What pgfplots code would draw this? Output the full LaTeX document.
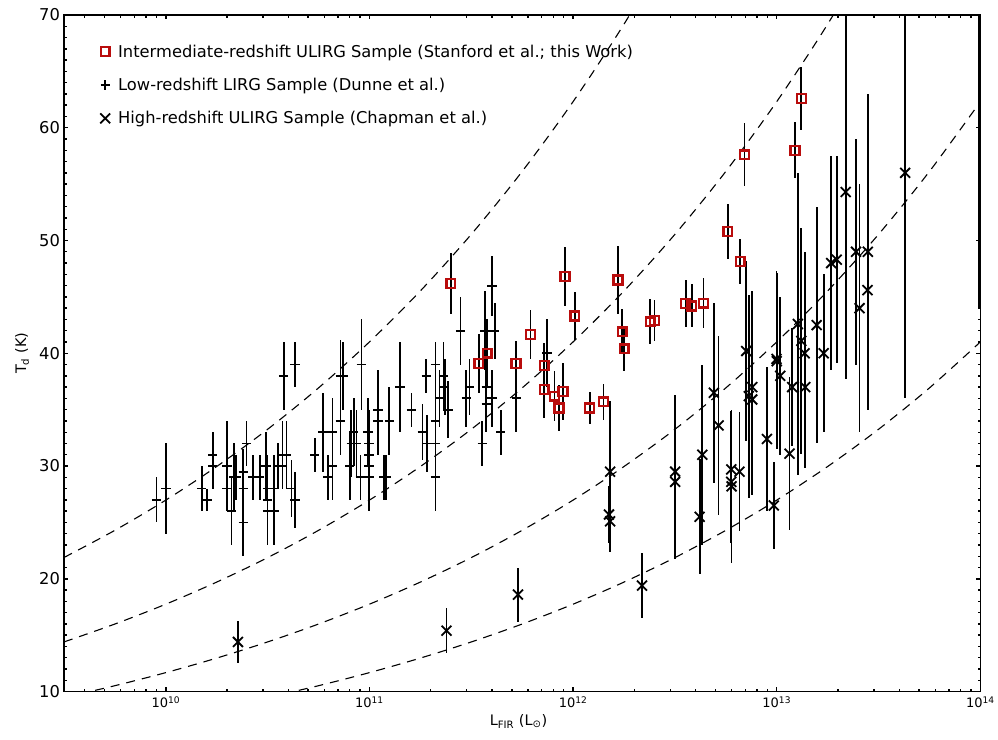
\documentclass[border=0pt]{standalone}
\usepackage{fontspec}
\setmainfont{DejaVu Sans}
\usepackage{pgfplots}
\usepackage{pgfplotstable}
\pgfplotsset{compat=1.18}
\definecolor{sqred}{RGB}{185,12,12}

\pgfplotstableread{
L T e
2.51e11 46.2 2.7
3.44e11 39.1 2.6
3.79e11 40.0 3.0
5.24e11 39.1 2.0
6.17e11 41.65 2.2
7.22e11 38.9 2.0
7.22e11 36.8 2.5
8.11e11 36.2 2.2
8.91e11 36.6 2.5
8.52e11 35.15 2.0
9.12e11 46.8 2.65
1.02e12 43.3 2.15
1.205e12 35.15 1.4
1.41e12 35.7 1.6
1.66e12 46.5 3.0
1.74e12 41.9 2.0
1.78e12 40.4 2.0
2.39e12 42.8 2.0
2.51e12 42.9 1.8
3.57e12 44.4 2.1
3.83e12 44.2 1.9
4.37e12 44.45 2.2
5.75e12 50.8 2.45
6.62e12 48.15 2.0
6.95e12 57.6 2.8
1.23e13 58.0 2.5
1.32e13 62.6 2.8
}\stanford

\pgfplotstableread{
L T e
9.0e9 27 2
1.0e10 28 4
1.5e10 28 2
1.6e10 27 1
1.7e10 31 2
1.7e10 30 2
2.0e10 30 4
2.0e10 28 2
2.16e10 29 3
2.22e10 29 2
2.1e10 26 3
2.4e10 29.5 2
2.4e10 28 3
2.4e10 25 3
2.49e10 32 2
2.68e10 29 2
2.89e10 29 2
3.1e10 30 3
3.16e10 28 3
3.16e10 27 3
3.16e10 26 3
3.4e10 28 3
3.4e10 26 3
3.56e10 30 2
3.74e10 31 3
3.74e10 30 2
3.91e10 31 3
3.79e10 38 3
4.3e10 39 2
4.14e10 28 2.5
4.3e10 27 2.5
5.39e10 31 1.5
5.92e10 33 3.5
6.58e10 33 3
6.26e10 29 2
6.58e10 30 3
7.2e10 34 3
7.2e10 38 3.2
7.4e10 38 3
8.0e10 30 3
8.15e10 32 3
8.37e10 33 3
8.63e10 32 3
9.13e10 39 4
9.03e10 29 2
9.84e10 33 3
9.95e10 32 3
9.95e10 31 3
9.95e10 30 3
9.95e10 29 3
1.1e11 35 3.5
1.1e11 34 3
1.175e11 29 2
1.21e11 29 2
1.25e11 34 3
1.41e11 37 4
1.61e11 35 1.5
1.82e11 33 2.5
1.92e11 32 2.5
1.9e11 38 1.5
2.11e11 39 2
2.11e11 34 3
2.11e11 32 3
2.11e11 29 3
2.21e11 36 2.5
2.31e11 38 3
2.34e11 37 2.5
2.43e11 35 2.5
2.80e11 42 3
2.99e11 36 2.5
3.10e11 37 2.5
3.58e11 32 2
3.69e11 42 3.5
4.12e11 42 2.5
4.0e11 46 2.65
3.75e11 37 3
3.75e11 35.5 2.5
4.0e11 36 2.5
4.41e11 33 2
5.26e11 36 3
7.44e11 40 3
}\dunne

\pgfplotstableread{
L T e
2.26e10 14.4 1.9
2.39e11 15.4 2.0
5.36e11 18.6 2.4
2.18e12 19.4 2.9
1.52e12 29.5 6.3
1.50e12 25.7 2.5
1.52e12 25.1 2.7
3.17e12 29.5 6.8
3.17e12 28.6 6.8
4.31e12 31.0 8.0
4.18e12 25.5 5.1
4.91e12 36.5 8.0
5.18e12 33.6 7.9
5.98e12 29.7 5.2
5.98e12 28.6 5.4
6.0e12 28.2 6.8
6.56e12 29.5 5.3
7.08e12 40.2 8.0
7.29e12 36.2 9.0
7.58e12 37.0 8.5
7.58e12 35.9 8.5
8.95e12 32.4 6.4
9.67e12 26.5 3.9
9.97e12 39.5 7.8
1.0e13 39.3 7.8
1.04e13 38.0 7.0
1.155e13 31.1 6.8
1.19e13 37.0 5.2
1.27e13 42.6 13.4
1.32e13 41.1 10
1.37e13 40.0 9
1.38e13 37.0 7.2
1.57e13 42.5 10.5
1.70e13 40.0 7.0
1.85e13 48.0 9.5
1.97e13 48.3 9.2
2.18e13 54.3 16.6
2.45e13 49.0 10
2.55e13 44.0 11
2.80e13 49.0 14
2.79e13 45.6 8.3
4.27e13 56.0 20
}\chapman

\pgfplotsset{
  ebar/.style={error bars/.cd, y dir=both, y explicit, error mark=none,
    error bar style={line width=1.8bp, black, solid}},
}

\begin{document}
\begin{tikzpicture}[font=\fontsize{16.3bp}{19bp}\selectfont]
\begin{axis}[
  scale only axis, width=917bp, height=677bp,
  line width=1.5bp,
  xmode=log, xmin=3.1623e9, xmax=1e14,
  ymin=10, ymax=70,
  xtick={1e10,1e11,1e12,1e13,1e14},
  xticklabels={10\textsuperscript{10},10\textsuperscript{11},10\textsuperscript{12},10\textsuperscript{13},10\textsuperscript{14}},
  minor xtick={4e9,5e9,6e9,7e9,8e9,9e9,
    2e10,3e10,4e10,5e10,6e10,7e10,8e10,9e10,
    2e11,3e11,4e11,5e11,6e11,7e11,8e11,9e11,
    2e12,3e12,4e12,5e12,6e12,7e12,8e12,9e12,
    2e13,3e13,4e13,5e13,6e13,7e13,8e13,9e13},
  ytick={10,20,30,40,50,60,70},
  yticklabels={10,20,30,40,50,60,70},
  minor ytick={11,12,13,14,15,16,17,18,19,21,22,23,24,25,26,27,28,29,
    31,32,33,34,35,36,37,38,39,41,42,43,44,45,46,47,48,49,
    51,52,53,54,55,56,57,58,59,61,62,63,64,65,66,67,68,69},
  tick align=inside,
  every major tick/.append style={line width=1.4bp, black},
  every minor tick/.append style={line width=1.4bp, black},
  xticklabel style={font=\fontsize{13bp}{15bp}\selectfont, yshift=-1bp},
  yticklabel style={font=\fontsize{16.3bp}{19bp}\selectfont},
  xlabel={L\textsubscript{FIR} (L\textsubscript{⊙})},
  ylabel={T\textsubscript{d} (K)},
  xlabel style={font=\fontsize{14.5bp}{17bp}\selectfont, at={(axis description cs:0.496,-0.0443)}, anchor=center},
  ylabel style={font=\fontsize{14.5bp}{17bp}\selectfont, at={(axis description cs:-0.0458,0.5)}, anchor=center},
  legend style={at={(axis description cs:0.030,0.963)}, anchor=north west, draw=none, fill=none,
    font=\fontsize{16.3bp}{19bp}\selectfont, row sep=15.5bp, cells={anchor=west}},
  legend image code/.code={\path[draw=none,fill=none] (-10bp,-5bp) rectangle (11bp,5bp);
    \draw[mark repeat=2,mark phase=2,#1] plot coordinates {(-1bp,0bp)(0bp,0bp)(1bp,0bp)};},
  reverse legend,
]
% constant-mass model curves
\addplot[forget plot, black, line width=1.1bp, dash pattern=on 9bp off 7bp, smooth] coordinates {
(3.1623e9,21.89) (5.6234e9,24.30) (1e10,26.98) (1.7783e10,29.96) (3.1623e10,33.26) (5.6234e10,36.93) (1e11,41.01) (1.7783e11,45.53) (3.1623e11,50.55) (5.6234e11,56.13) (1e12,62.32) (1.7783e12,69.19) (3.1623e12,76.82)};
\addplot[forget plot, black, line width=1.1bp, dash pattern=on 9bp off 7bp, smooth] coordinates {
(3.1623e9,14.40) (5.6234e9,15.99) (1e10,17.75) (1.7783e10,19.71) (3.1623e10,21.88) (5.6234e10,24.30) (1e11,26.98) (1.7783e11,29.96) (3.1623e11,33.26) (5.6234e11,36.93) (1e12,41.01) (1.7783e12,45.53) (3.1623e12,50.55) (5.6234e12,56.13) (1e13,62.32) (1.7783e13,69.19) (3.1623e13,76.82)};
\addplot[forget plot, black, line width=1.1bp, dash pattern=on 9bp off 7bp, smooth] coordinates {
(3.1623e9,9.475) (5.6234e9,10.52) (1e10,11.68) (1.7783e10,12.97) (3.1623e10,14.40) (5.6234e10,15.99) (1e11,17.75) (1.7783e11,19.71) (3.1623e11,21.88) (5.6234e11,24.30) (1e12,26.98) (1.7783e12,29.96) (3.1623e12,33.26) (5.6234e12,36.93) (1e13,41.01) (1.7783e13,45.53) (3.1623e13,50.55) (5.6234e13,56.13) (1e14,62.32)};
\addplot[forget plot, black, line width=1.1bp, dash pattern=on 9bp off 7bp, smooth] coordinates {
(3.1623e10,9.475) (5.6234e10,10.52) (1e11,11.68) (1.7783e11,12.97) (3.1623e11,14.40) (5.6234e11,15.99) (1e12,17.75) (1.7783e12,19.71) (3.1623e12,21.88) (5.6234e12,24.30) (1e13,26.98) (1.7783e13,29.96) (3.1623e13,33.26) (5.6234e13,36.93) (1e14,41.01)};
% error bar at right edge
\addplot[forget plot, only marks, mark=*, mark size=0.1bp, black, ebar] coordinates {(9.85e13,60) +- (0,16)};
% Chapman
\addplot[only marks, mark=x, mark size=7bp, black, line width=1.8bp, ebar]
  table[x=L, y=T, y error=e] {\chapman};
\addlegendentry{High-redshift ULIRG Sample (Chapman et al.)}
% Dunne
\addplot[only marks, mark=+, mark size=4.7bp, black, line width=1.8bp, ebar]
  table[x=L, y=T, y error=e] {\dunne};
\addlegendentry{Low-redshift LIRG Sample (Dunne et al.)}
% Stanford
\addplot[only marks, mark=square, mark size=4.4bp, sqred, line width=2.4bp, ebar]
  table[x=L, y=T, y error=e] {\stanford};
\addlegendentry{Intermediate-redshift ULIRG Sample (Stanford et al.; this Work)}
\end{axis}
\path (-64bp,-48bp) rectangle (934bp,692bp);
\end{tikzpicture}
\end{document}
